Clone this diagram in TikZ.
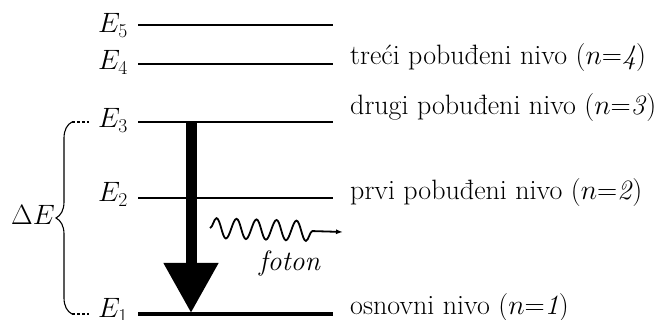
\RequirePackage{fix-cm}
\documentclass[tikz,border=0pt]{standalone}
\usepackage{tikz}
\usetikzlibrary{arrows.meta,calc,decorations.pathmorphing,decorations.pathreplacing,positioning}
\tikzset{
  level/.style={black,line width=2.4pt},
  thinlevel/.style={black,line width=1.9pt},
  groundlevel/.style={black,line width=4.6pt},
  stub/.style={black,line width=1.4pt,dash pattern=on 3pt off 2pt},
  lvlname/.style={anchor=base east,inner sep=0pt},
  lvltext/.style={anchor=base west,inner sep=0pt},
  decay/.style={line width=11pt,-{Triangle[length=50pt,width=52pt]}},
  photon/.style={line width=1.8pt,-{Latex[length=7pt,width=5pt]},
                 decorate,decoration={snake,segment length=20pt,amplitude=10pt,post length=28pt}},
}

\begin{document}
\begin{tikzpicture}[x=1pt,y=1pt,font=\fontsize{28}{34}\selectfont]
  \path[use as bounding box] (0,0) rectangle (665,320);

  % energy levels
  \coordinate (e5a) at (138,295); \coordinate (e5b) at (333,295);
  \coordinate (e4a) at (138,256); \coordinate (e4b) at (333,256);
  \coordinate (e3a) at (138,198); \coordinate (e3b) at (333,198);
  \coordinate (e2a) at (138,122); \coordinate (e2b) at (333,122);
  \coordinate (e1a) at (138,6);   \coordinate (e1b) at (333,6);
  \draw[level] (e5a) -- (e5b);
  \draw[level] (e4a) -- (e4b);
  \draw[level,line width=2.8pt] (e3a) -- (e3b);
  \draw[thinlevel] (e2a) -- (e2b);
  \draw[groundlevel] (e1a) -- (e1b);

  \node[lvlname] (n5) at (128,287) {$E_5$};
  \node[lvlname] (n4) at (128,250) {$E_4$};
  \node[lvlname] (n3) at (128,192) {$E_3$};
  \node[lvlname] (n2) at (128,118) {$E_2$};
  \node[lvlname] (n1) at (128,2)   {$E_1$};

  \node[lvltext] (t4) at (350,255) {treći pobuđeni nivo ($n$=\textit{4})};
  \node[lvltext] (t3) at (350,205) {drugi pobuđeni nivo ($n$=\textit{3})};
  \node[lvltext] (t2) at (350,120) {prvi pobuđeni nivo ($n$=\textit{2})};
  \node[lvltext] (t1) at (350,5)   {osnovni nivo ($n$=\textit{1})};

  % energy difference
  \coordinate (d3a) at (72,198); \coordinate (d3b) at (89,198);
  \coordinate (d1a) at (72,6);   \coordinate (d1b) at (89,6);
  \draw[stub] (d3a) -- (d3b);
  \draw[stub] (d1a) -- (d1b);
  \draw[line width=1.1pt,decorate,decoration={brace,amplitude=16pt}] (d1a) -- (d3a);
  \node (de) at (33,105) {$\Delta E$};

  % transition and emitted photon
  \coordinate (top) at (191,198);
  \coordinate (tip) at (191,7);
  \draw[decay] (top) -- (tip);
  \coordinate (ph0) at (210,92);
  \coordinate (ph1) at (343,88);
  \draw[photon] (ph0) -- (ph1);
  \node (foton) at (290,56) {\textit{foton}};
\end{tikzpicture}
\end{document}
